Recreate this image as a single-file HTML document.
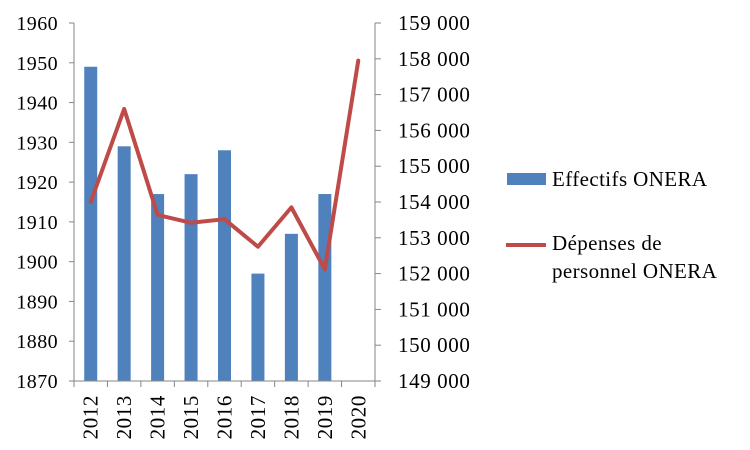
<!DOCTYPE html>
<html><head><meta charset="utf-8"><style>
html,body{margin:0;padding:0;background:#fff;}
svg{display:block;font-family:"Liberation Serif",serif;}
</style></head><body>
<svg id="chart" width="750" height="450" xmlns="http://www.w3.org/2000/svg"></svg>
<script>
const categories=["2012","2013","2014","2015","2016","2017","2018","2019","2020"];
const effectifs=[1949,1929,1917,1922,1928,1897,1907,1917,null];
const depenses=[154000,156600,153640,153420,153520,152750,153850,152120,157950];
const leftTicks=[1870,1880,1890,1900,1910,1920,1930,1940,1950,1960];
const rightTicks=[149000,150000,151000,152000,153000,154000,155000,156000,157000,158000,159000];
const rightTickLabels=["149 000","150 000","151 000","152 000","153 000","154 000","155 000","156 000","157 000","158 000","159 000"];

const NS="http://www.w3.org/2000/svg";
const svg=document.getElementById('chart');
const X0=74,X1=375,Y0=381,Y1=23;
const bw=(X1-X0)/categories.length;
const yL=v=>Y0-(v-1870)/(1960-1870)*(Y0-Y1);
const yR=v=>Y0-(v-149000)/(159000-149000)*(Y0-Y1);
const xC=i=>X0+bw*(i+0.5);
function mk(tag,attrs,parent){const e=document.createElementNS(NS,tag);for(const k in attrs)e.setAttribute(k,attrs[k]);(parent||svg).appendChild(e);return e;}

effectifs.forEach((v,i)=>{
  if(v==null)return;
  const r=mk('rect',{x:xC(i)-6.5,y:yL(v),width:13,height:Y0-yL(v),fill:'#4f81bd'});
  
  
});
const ax=mk('g',{stroke:'#868686','stroke-width':1,fill:'none'});


mk('line',{x1:X0,y1:Y1,x2:X0,y2:Y0},ax);
mk('line',{x1:X1,y1:Y1,x2:X1,y2:Y0},ax);
mk('line',{x1:X0,y1:Y0,x2:X1,y2:Y0},ax);
leftTicks.forEach(t=>{
  mk('line',{x1:X0-5,y1:yL(t),x2:X0,y2:yL(t)},ax);
  const tx=mk('text',{x:58,y:yL(t)+7,'text-anchor':'end','font-size':20,'letter-spacing':0.4,fill:'#000'});
  tx.textContent=t;
  
  
});
rightTicks.forEach((t,i)=>{
  mk('line',{x1:X1,y1:yR(t),x2:X1+6,y2:yR(t)},ax);
  const tx=mk('text',{x:398,y:yR(t)+7,'text-anchor':'start','font-size':21,'letter-spacing':0.6,fill:'#000'});
  tx.textContent=rightTickLabels[i];
  
  
});
for(let i=0;i<=categories.length;i++){mk('line',{x1:X0+bw*i,y1:Y0,x2:X0+bw*i,y2:Y0+6},ax);}
categories.forEach((c,i)=>{
  const x=xC(i)+7,y=395;
  const tx=mk('text',{x:x,y:y,'text-anchor':'end','font-size':21,'letter-spacing':0.6,fill:'#000',transform:`rotate(-90 ${x} ${y})`});
  tx.textContent=c;
  
  
});
const pts=depenses.map((v,i)=>xC(i)+','+yR(v)).join(' ');
const pl=mk('polyline',{points:pts,fill:'none',stroke:'#be4b48','stroke-width':4,'stroke-linejoin':'round','stroke-linecap':'round'});


const lg=mk('g',{});


const ls=mk('rect',{x:507,y:173,width:39,height:12,fill:'#4f81bd'},lg);


const lt=mk('text',{x:552,y:186,'font-size':21,'letter-spacing':0.4,fill:'#000'},lg);
lt.textContent='Effectifs ONERA';


const ll=mk('line',{x1:506,y1:245,x2:546,y2:245,stroke:'#be4b48','stroke-width':4},lg);


const lt2=mk('text',{x:552,y:250,'font-size':21,'letter-spacing':0.4,fill:'#000'},lg);
lt2.textContent='Dépenses de';


const lt3=mk('text',{x:552,y:278,'font-size':21,'letter-spacing':0.4,fill:'#000'},lg);
lt3.textContent='personnel ONERA';


</script>
</body></html>
